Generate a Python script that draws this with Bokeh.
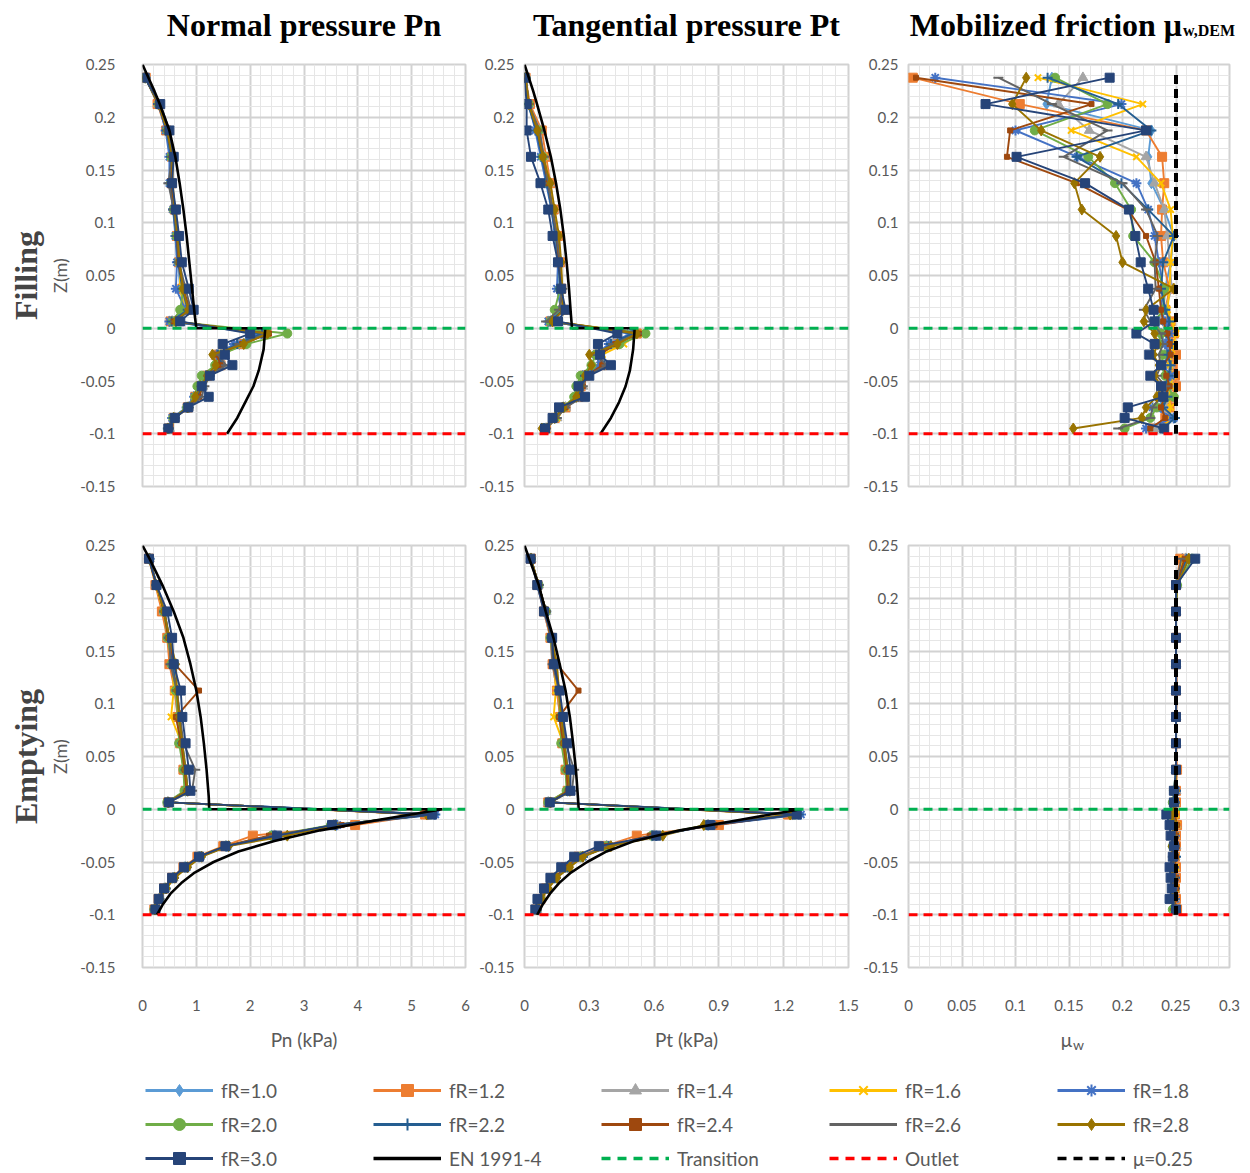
import numpy as np
from bokeh.plotting import figure
from bokeh.models import (Range1d, FixedTicker, CustomJSTickFormatter, Title,
                          Legend, LegendItem, Span)
from bokeh.core.properties import value
from bokeh.layouts import column, row
from bokeh.embed import file_html
from bokeh.resources import INLINE

# ---------------- data ----------------
z_levels = [0.2375, 0.2125, 0.1875, 0.1625, 0.1375, 0.1125, 0.0875, 0.0625, 0.0375, 0.0175, 0.0065,
            -0.005, -0.015, -0.025, -0.035, -0.045, -0.055, -0.065, -0.075, -0.085, -0.095]
series_labels = ["fR=1.0", "fR=1.2", "fR=1.4", "fR=1.6", "fR=1.8", "fR=2.0",
                 "fR=2.2", "fR=2.4", "fR=2.6", "fR=2.8", "fR=3.0"]

# Filling - normal pressure Pn (kPa)
pn_fill_f10 = [0.05,0.29,0.45,0.52,0.52,0.57,0.62,0.66,0.70,0.78,0.50,2.20,1.80,1.38,1.40,1.18,1.05,0.95,0.82,0.57,0.47]
pn_fill_f12 = [0.06,0.28,0.44,0.55,0.54,0.60,0.64,0.68,0.74,0.82,0.52,2.30,1.85,1.42,1.45,1.20,1.08,0.98,0.84,0.58,0.49]
pn_fill_f14 = [0.05,0.30,0.47,0.54,0.53,0.58,0.65,0.67,0.72,0.80,0.55,2.25,1.78,1.40,1.50,1.22,1.12,1.05,0.86,0.60,0.50]
pn_fill_f16 = [0.05,0.31,0.48,0.56,0.55,0.60,0.66,0.69,0.70,0.78,0.58,2.28,1.90,1.45,1.42,1.20,1.10,1.00,0.85,0.58,0.50]
pn_fill_f18 = [0.06,0.30,0.43,0.50,0.50,0.57,0.61,0.64,0.62,0.80,0.50,2.15,1.70,1.38,1.44,1.18,1.06,0.96,0.82,0.55,0.47]
pn_fill_f20 = [0.05,0.30,0.46,0.53,0.53,0.58,0.63,0.68,0.76,0.70,0.56,2.69,1.93,1.45,1.35,1.10,1.02,0.98,0.83,0.57,0.48]
pn_fill_f22 = [0.05,0.29,0.45,0.53,0.52,0.57,0.63,0.66,0.74,0.84,0.54,2.22,1.76,1.40,1.48,1.22,1.10,1.02,0.86,0.58,0.49]
pn_fill_f24 = [0.06,0.30,0.46,0.55,0.54,0.59,0.64,0.67,0.76,0.88,0.58,2.35,1.85,1.38,1.45,1.24,1.12,1.05,0.85,0.59,0.48]
pn_fill_f26 = [0.05,0.31,0.47,0.55,0.48,0.58,0.65,0.68,0.80,0.90,0.60,2.30,1.80,1.40,1.55,1.25,1.15,1.10,0.86,0.60,0.49]
pn_fill_f28 = [0.05,0.30,0.46,0.55,0.56,0.60,0.65,0.69,0.75,0.85,0.62,2.32,1.88,1.30,1.36,1.20,1.08,0.98,0.84,0.58,0.47]
pn_fill_f30 = [0.04,0.33,0.50,0.58,0.55,0.62,0.68,0.73,0.86,0.95,0.70,2.00,1.49,1.53,1.67,1.25,1.10,1.23,0.85,0.60,0.48]

# Filling - tangential pressure Pt (kPa)
pt_fill_f10 = [0.005,0.02,0.06,0.08,0.11,0.13,0.15,0.16,0.16,0.17,0.11,0.50,0.40,0.33,0.35,0.27,0.25,0.24,0.18,0.14,0.09]
pt_fill_f12 = [0.005,0.025,0.08,0.10,0.12,0.135,0.155,0.165,0.17,0.18,0.12,0.52,0.42,0.34,0.36,0.28,0.26,0.25,0.19,0.14,0.10]
pt_fill_f14 = [0.005,0.02,0.07,0.09,0.115,0.13,0.15,0.16,0.165,0.175,0.12,0.51,0.41,0.35,0.37,0.28,0.27,0.26,0.19,0.15,0.10]
pt_fill_f16 = [0.005,0.02,0.065,0.09,0.115,0.135,0.155,0.165,0.17,0.17,0.13,0.53,0.46,0.36,0.35,0.28,0.26,0.25,0.19,0.15,0.10]
pt_fill_f18 = [0.005,0.02,0.05,0.075,0.10,0.125,0.14,0.155,0.15,0.17,0.11,0.49,0.39,0.33,0.35,0.27,0.25,0.24,0.18,0.14,0.09]
pt_fill_f20 = [0.005,0.02,0.065,0.085,0.11,0.13,0.145,0.16,0.165,0.14,0.12,0.56,0.44,0.33,0.31,0.26,0.24,0.23,0.18,0.14,0.09]
pt_fill_f22 = [0.005,0.015,0.055,0.08,0.105,0.125,0.145,0.16,0.165,0.18,0.12,0.50,0.40,0.34,0.37,0.28,0.26,0.25,0.18,0.14,0.09]
pt_fill_f24 = [0.005,0.02,0.06,0.085,0.11,0.13,0.15,0.16,0.17,0.18,0.13,0.53,0.42,0.35,0.36,0.29,0.27,0.26,0.19,0.14,0.10]
pt_fill_f26 = [0.005,0.02,0.07,0.09,0.11,0.13,0.15,0.165,0.175,0.16,0.10,0.52,0.41,0.33,0.38,0.29,0.27,0.27,0.19,0.15,0.10]
pt_fill_f28 = [0.005,0.02,0.06,0.085,0.12,0.14,0.16,0.17,0.175,0.18,0.13,0.52,0.43,0.30,0.31,0.28,0.26,0.24,0.18,0.14,0.08]
pt_fill_f30 = [0.0,0.01,0.01,0.03,0.074,0.11,0.13,0.155,0.17,0.19,0.155,0.43,0.34,0.35,0.40,0.30,0.25,0.28,0.16,0.13,0.095]

# Filling - mobilized friction
mu_fill_f10 = [0.134,0.129,0.227,0.224,0.227,0.239,0.248,0.245,0.240,0.238,0.232,0.236,0.240,0.243,0.246,0.242,0.245,0.240,0.236,0.248,0.232]
mu_fill_f12 = [0.004,0.104,0.222,0.237,0.239,0.237,0.236,0.238,0.244,0.240,0.245,0.248,0.244,0.250,0.247,0.249,0.250,0.246,0.244,0.240,0.228]
mu_fill_f14 = [0.163,0.140,0.169,0.222,0.230,0.239,0.242,0.244,0.246,0.240,0.236,0.242,0.245,0.240,0.244,0.243,0.246,0.244,0.240,0.242,0.230]
mu_fill_f16 = [0.121,0.219,0.152,0.213,0.236,0.245,0.247,0.245,0.244,0.242,0.246,0.250,0.248,0.246,0.244,0.247,0.245,0.243,0.245,0.244,0.238]
mu_fill_f18 = [0.025,0.199,0.100,0.158,0.213,0.224,0.230,0.234,0.238,0.236,0.240,0.244,0.240,0.243,0.238,0.245,0.241,0.236,0.228,0.248,0.222]
mu_fill_f20 = [0.137,0.186,0.118,0.168,0.193,0.208,0.210,0.230,0.239,0.238,0.230,0.236,0.234,0.238,0.236,0.240,0.242,0.248,0.232,0.226,0.202]
mu_fill_f22 = [0.130,0.196,0.227,0.157,0.199,0.224,0.248,0.238,0.236,0.240,0.244,0.241,0.246,0.242,0.245,0.243,0.240,0.242,0.238,0.249,0.238]
mu_fill_f24 = [0.007,0.171,0.095,0.092,0.157,0.205,0.222,0.231,0.234,0.236,0.238,0.242,0.244,0.245,0.238,0.241,0.244,0.239,0.236,0.240,0.226]
mu_fill_f26 = [0.084,0.134,0.186,0.145,0.200,0.222,0.233,0.230,0.231,0.220,0.226,0.236,0.238,0.234,0.236,0.232,0.240,0.236,0.228,0.226,0.196]
mu_fill_f28 = [0.110,0.097,0.124,0.179,0.155,0.162,0.194,0.200,0.248,0.222,0.220,0.230,0.233,0.229,0.234,0.230,0.236,0.232,0.222,0.218,0.154]
mu_fill_f30 = [0.188,0.072,0.222,0.101,0.165,0.206,0.212,0.217,0.224,0.229,0.230,0.213,0.230,0.225,0.236,0.226,0.236,0.238,0.205,0.202,0.239]

# Emptying - normal pressure Pn (kPa)
pn_empty_f10 = [0.13,0.25,0.38,0.47,0.53,0.60,0.66,0.72,0.76,0.80,0.47,5.30,3.60,2.40,1.55,1.05,0.78,0.56,0.40,0.30,0.22]
pn_empty_f12 = [0.12,0.24,0.36,0.46,0.50,0.60,0.65,0.70,0.76,0.80,0.48,5.25,3.95,2.05,1.50,1.02,0.76,0.55,0.40,0.30,0.22]
pn_empty_f14 = [0.13,0.26,0.40,0.48,0.55,0.62,0.67,0.72,0.80,0.84,0.47,5.32,3.55,2.45,1.55,1.04,0.80,0.57,0.42,0.31,0.23]
pn_empty_f16 = [0.12,0.25,0.39,0.49,0.56,0.58,0.53,0.73,0.78,0.82,0.48,5.30,3.60,2.42,1.52,1.05,0.79,0.58,0.42,0.30,0.22]
pn_empty_f18 = [0.13,0.27,0.40,0.48,0.55,0.63,0.69,0.74,0.79,0.84,0.49,5.44,3.62,2.48,1.58,1.08,0.82,0.58,0.43,0.31,0.23]
pn_empty_f20 = [0.12,0.26,0.40,0.47,0.54,0.62,0.66,0.68,0.76,0.78,0.46,5.35,3.50,2.40,1.55,1.06,0.80,0.57,0.42,0.31,0.22]
pn_empty_f22 = [0.13,0.26,0.41,0.49,0.56,0.64,0.69,0.74,0.80,0.84,0.48,5.42,3.58,2.46,1.57,1.07,0.81,0.58,0.43,0.31,0.23]
pn_empty_f24 = [0.12,0.26,0.40,0.48,0.60,1.05,0.62,0.72,0.78,0.82,0.48,5.30,3.70,2.35,1.53,1.04,0.79,0.57,0.41,0.30,0.22]
pn_empty_f26 = [0.12,0.26,0.41,0.50,0.52,0.64,0.70,0.76,0.98,0.92,0.48,5.32,3.56,2.44,1.56,1.06,0.80,0.58,0.42,0.31,0.23]
pn_empty_f28 = [0.13,0.26,0.40,0.50,0.62,0.64,0.68,0.74,0.80,0.84,0.48,5.28,3.58,2.69,1.60,1.10,0.84,0.60,0.44,0.32,0.23]
pn_empty_f30 = [0.12,0.26,0.46,0.55,0.58,0.71,0.74,0.80,0.86,0.89,0.49,5.38,3.52,2.50,1.54,1.05,0.77,0.55,0.40,0.30,0.24]

# Emptying - tangential pressure Pt (kPa)
pt_empty_f10 = [0.03,0.06,0.09,0.12,0.13,0.15,0.165,0.18,0.19,0.20,0.11,1.24,0.85,0.59,0.38,0.26,0.19,0.14,0.10,0.075,0.056]
pt_empty_f12 = [0.03,0.06,0.09,0.12,0.13,0.15,0.165,0.175,0.19,0.20,0.11,1.22,0.90,0.52,0.37,0.25,0.19,0.14,0.10,0.074,0.055]
pt_empty_f14 = [0.03,0.065,0.10,0.125,0.14,0.16,0.17,0.18,0.20,0.21,0.11,1.25,0.85,0.60,0.38,0.26,0.20,0.14,0.10,0.076,0.057]
pt_empty_f16 = [0.03,0.06,0.095,0.125,0.14,0.145,0.135,0.18,0.195,0.20,0.11,1.24,0.86,0.60,0.38,0.26,0.19,0.14,0.10,0.075,0.056]
pt_empty_f18 = [0.03,0.065,0.10,0.125,0.14,0.16,0.175,0.185,0.20,0.21,0.12,1.28,0.87,0.61,0.39,0.27,0.20,0.145,0.105,0.077,0.058]
pt_empty_f20 = [0.03,0.065,0.10,0.12,0.135,0.16,0.165,0.17,0.19,0.195,0.11,1.25,0.84,0.59,0.38,0.26,0.20,0.14,0.10,0.075,0.056]
pt_empty_f22 = [0.03,0.065,0.10,0.125,0.14,0.16,0.175,0.185,0.20,0.21,0.12,1.27,0.86,0.61,0.39,0.27,0.20,0.145,0.105,0.077,0.058]
pt_empty_f24 = [0.03,0.065,0.10,0.12,0.15,0.25,0.16,0.18,0.195,0.20,0.12,1.24,0.88,0.58,0.38,0.26,0.19,0.14,0.10,0.074,0.056]
pt_empty_f26 = [0.03,0.065,0.10,0.125,0.13,0.16,0.175,0.19,0.23,0.22,0.12,1.25,0.85,0.60,0.38,0.26,0.20,0.145,0.10,0.076,0.057]
pt_empty_f28 = [0.03,0.065,0.10,0.125,0.15,0.16,0.17,0.185,0.20,0.21,0.12,1.23,0.83,0.64,0.40,0.27,0.21,0.15,0.11,0.078,0.057]
pt_empty_f30 = [0.028,0.059,0.09,0.128,0.136,0.163,0.179,0.198,0.213,0.213,0.117,1.26,0.86,0.61,0.344,0.23,0.17,0.12,0.09,0.06,0.05]

# Emptying - mobilized friction
mu_empty_f10 = [0.256,0.250,0.250,0.250,0.250,0.250,0.250,0.250,0.250,0.249,0.249,0.248,0.249,0.250,0.249,0.248,0.249,0.248,0.249,0.248,0.250]
mu_empty_f12 = [0.254,0.250,0.250,0.250,0.250,0.250,0.250,0.250,0.251,0.250,0.250,0.249,0.251,0.250,0.250,0.249,0.250,0.250,0.249,0.250,0.251]
mu_empty_f14 = [0.259,0.251,0.250,0.250,0.250,0.250,0.250,0.250,0.250,0.250,0.249,0.248,0.250,0.249,0.250,0.249,0.249,0.248,0.249,0.249,0.250]
mu_empty_f16 = [0.257,0.250,0.250,0.250,0.250,0.250,0.250,0.250,0.250,0.249,0.250,0.250,0.251,0.250,0.249,0.250,0.250,0.249,0.250,0.249,0.250]
mu_empty_f18 = [0.262,0.251,0.250,0.250,0.250,0.250,0.250,0.250,0.250,0.250,0.249,0.246,0.248,0.249,0.248,0.249,0.248,0.249,0.248,0.249,0.249]
mu_empty_f20 = [0.265,0.251,0.250,0.250,0.250,0.250,0.250,0.250,0.250,0.248,0.247,0.244,0.246,0.248,0.247,0.248,0.246,0.247,0.248,0.246,0.247]
mu_empty_f22 = [0.260,0.250,0.250,0.250,0.250,0.250,0.250,0.250,0.250,0.250,0.249,0.247,0.249,0.248,0.249,0.250,0.248,0.249,0.249,0.248,0.250]
mu_empty_f24 = [0.258,0.250,0.250,0.250,0.250,0.251,0.250,0.250,0.250,0.250,0.250,0.249,0.251,0.250,0.251,0.250,0.249,0.250,0.250,0.249,0.250]
mu_empty_f26 = [0.255,0.250,0.250,0.250,0.250,0.250,0.250,0.250,0.250,0.249,0.249,0.247,0.248,0.248,0.249,0.247,0.248,0.248,0.247,0.248,0.249]
mu_empty_f28 = [0.262,0.251,0.250,0.250,0.250,0.250,0.250,0.250,0.250,0.250,0.249,0.246,0.249,0.247,0.246,0.248,0.246,0.247,0.246,0.247,0.248]
mu_empty_f30 = [0.268,0.250,0.250,0.250,0.250,0.250,0.250,0.250,0.250,0.248,0.248,0.241,0.244,0.245,0.248,0.247,0.244,0.245,0.246,0.244,0.250]

# EN 1991-4 reference curves
en_fill_z = [0.25, 0.2375, 0.225, 0.2125, 0.1875, 0.1625, 0.1375, 0.1125, 0.0875, 0.0625, 0.0375, 0.0125, 0.0,
             0.0, -0.02, -0.04, -0.055, -0.07, -0.085, -0.1]
en_fill_pn = [0.0, 0.11, 0.22, 0.32, 0.50, 0.61, 0.69, 0.76, 0.82, 0.87, 0.92, 0.97, 1.0,
              2.28, 2.25, 2.16, 2.06, 1.91, 1.76, 1.57]
en_fill_pt = [0.0, 0.02, 0.04, 0.058, 0.092, 0.122, 0.146, 0.166, 0.182, 0.195, 0.206, 0.215, 0.22,
              0.51, 0.503, 0.488, 0.468, 0.438, 0.40, 0.352]
en_empty_z = [0.25, 0.2375, 0.225, 0.2125, 0.1875, 0.1625, 0.1375, 0.1125, 0.0875, 0.0625, 0.0375, 0.0125, 0.0,
              0.0, -0.01, -0.02, -0.03, -0.04, -0.05, -0.06, -0.07, -0.08, -0.09, -0.1]
en_empty_pn = [0.0, 0.13, 0.25, 0.37, 0.58, 0.76, 0.89, 1.0, 1.08, 1.14, 1.19, 1.23, 1.24,
               5.57, 4.4, 3.3, 2.45, 1.78, 1.32, 0.97, 0.72, 0.52, 0.38, 0.27]
en_empty_pt = [0.0, 0.022, 0.044, 0.066, 0.098, 0.134, 0.163, 0.19, 0.21, 0.225, 0.238, 0.247, 0.251,
               1.278, 1.0, 0.72, 0.51, 0.38, 0.29, 0.215, 0.16, 0.118, 0.085, 0.059]

mu_ref = 0.25
mu_ref_top = 0.24
transition_z = 0.0
outlet_z = -0.1

y_ticks = [-0.15, -0.1, -0.05, 0, 0.05, 0.1, 0.15, 0.2, 0.25]
pn_ticks = [0, 1, 2, 3, 4, 5, 6]
pt_ticks = [0, 0.3, 0.6, 0.9, 1.2, 1.5]
mu_ticks = [0, 0.05, 0.1, 0.15, 0.2, 0.25, 0.3]

panel_titles = ["Normal pressure Pn", "Tangential pressure Pt", "Mobilized friction μ"]
friction_title_sub = "w,DEM"
row_labels = ["Filling", "Emptying"]
x_axis_labels = ["Pn (kPa)", "Pt (kPa)", "μ"]
mu_axis_sub = "w"

# ---------------- styling ----------------
series_colors = ["#5B9BD5", "#ED7D31", "#A5A5A5", "#FFC000", "#4472C4", "#70AD47",
                 "#255E91", "#9E480E", "#636363", "#997300", "#264478"]
series_markers = ["diamond", "square", "triangle", "x", "asterisk", "circle",
                  "cross", "square", "dash", "diamond", "square"]
series_sizes = [11, 9, 10, 9, 10, 9, 10, 5, 10, 11, 9]

pn_fill = [pn_fill_f10, pn_fill_f12, pn_fill_f14, pn_fill_f16, pn_fill_f18, pn_fill_f20,
           pn_fill_f22, pn_fill_f24, pn_fill_f26, pn_fill_f28, pn_fill_f30]
pt_fill = [pt_fill_f10, pt_fill_f12, pt_fill_f14, pt_fill_f16, pt_fill_f18, pt_fill_f20,
           pt_fill_f22, pt_fill_f24, pt_fill_f26, pt_fill_f28, pt_fill_f30]
mu_fill = [mu_fill_f10, mu_fill_f12, mu_fill_f14, mu_fill_f16, mu_fill_f18, mu_fill_f20,
           mu_fill_f22, mu_fill_f24, mu_fill_f26, mu_fill_f28, mu_fill_f30]
pn_empty = [pn_empty_f10, pn_empty_f12, pn_empty_f14, pn_empty_f16, pn_empty_f18, pn_empty_f20,
            pn_empty_f22, pn_empty_f24, pn_empty_f26, pn_empty_f28, pn_empty_f30]
pt_empty = [pt_empty_f10, pt_empty_f12, pt_empty_f14, pt_empty_f16, pt_empty_f18, pt_empty_f20,
            pt_empty_f22, pt_empty_f24, pt_empty_f26, pt_empty_f28, pt_empty_f30]
mu_empty = [mu_empty_f10, mu_empty_f12, mu_empty_f14, mu_empty_f16, mu_empty_f18, mu_empty_f20,
            mu_empty_f22, mu_empty_f24, mu_empty_f26, mu_empty_f28, mu_empty_f30]

FONT = "Lato"
SERIF = "Liberation Serif"
GRAY_TXT = "#595959"
MAJOR_GRID = "#d2d2d2"
MINOR_GRID = "#e6e6e6"
TOTAL_W = 1250
HEADER_H = 54
TOP_H = 462
BOT_H = 504
FOOT_H = 153

col_specs = [
    dict(xmax=6.0, ticks=pn_ticks, minor=0.2, w=474, bl=142, br=9, standoff=27),
    dict(xmax=1.5, ticks=pt_ticks, minor=0.06, w=386, bl=50, br=12, standoff=10),
    dict(xmax=0.3, ticks=mu_ticks, minor=0.01, w=390, bl=46, br=21, standoff=10),
]
# horizontal frame centres (pixels) derived from the column layout
col_left = np.cumsum([0] + [c["w"] for c in col_specs[:-1]])
frame_centers = [float(cl + c["bl"] + (c["w"] - c["bl"] - c["br"]) / 2) for cl, c in zip(col_left, col_specs)]

fmt_code = "return String(parseFloat(tick.toFixed(4)));"


def minor_list(ticks, step):
    return [float(v) for v in np.round(np.arange(ticks[0], ticks[-1] + step / 2, step), 5)]


y_minor = minor_list(y_ticks, 0.01)


def make_panel(ci, top, sets, en_x, en_z, with_mu=False, rowlabel=None):
    s = col_specs[ci]
    h = TOP_H if top else BOT_H
    bt = 10 if top else 29
    bb = 30 if top else 53
    p = figure(width=s["w"], height=h, x_range=Range1d(0, s["xmax"]), y_range=Range1d(-0.15, 0.25),
               output_backend="svg", toolbar_location=None,
               min_border_left=s["bl"], min_border_right=s["br"],
               min_border_top=bt, min_border_bottom=bb)
    p.background_fill_color = "white"
    p.border_fill_color = "white"
    p.outline_line_color = MAJOR_GRID
    p.outline_line_width = 2

    xt = FixedTicker(ticks=s["ticks"], minor_ticks=minor_list(s["ticks"], s["minor"]))
    yt = FixedTicker(ticks=y_ticks, minor_ticks=y_minor)
    p.xaxis.ticker = xt
    p.yaxis.ticker = yt
    p.xgrid.ticker = xt
    p.ygrid.ticker = yt
    for g in (p.xgrid, p.ygrid):
        g.grid_line_color = MAJOR_GRID
        g.grid_line_width = 2
        g.minor_grid_line_color = MINOR_GRID
        g.minor_grid_line_width = 1

    for ax in (p.xaxis, p.yaxis):
        ax.formatter = CustomJSTickFormatter(code=fmt_code)
        ax.axis_line_color = None
        ax.major_tick_line_color = None
        ax.minor_tick_line_color = None
        ax.major_tick_out = 0
        ax.major_tick_in = 0
        ax.minor_tick_out = 0
        ax.minor_tick_in = 0
        ax.major_label_text_font = FONT
        ax.major_label_text_font_size = "15px"
        ax.major_label_text_color = GRAY_TXT
        ax.axis_label_text_font = FONT
        ax.axis_label_text_font_style = "normal"
        ax.axis_label_text_color = GRAY_TXT
    p.yaxis.major_label_standoff = s["standoff"]

    if top:
        p.xaxis.visible = False
    else:
        p.xaxis.major_label_standoff = 32

    if ci == 0:
        p.yaxis.axis_label = "Z(m)"
        p.yaxis.axis_label_text_font_size = "18px"
        p.yaxis.axis_label_standoff = 6
        p.add_layout(Title(text=rowlabel, text_font=SERIF, text_font_style="bold",
                           text_font_size="32px", align="center", standoff=5), "left")

    for vals, c, m, sz in zip(sets, series_colors, series_markers, series_sizes):
        p.line(x=vals, y=z_levels, line_color=c, line_width=1.9)
        lw = 2 if m in ("x", "asterisk", "cross", "dash") else 1
        p.scatter(x=vals, y=z_levels, marker=m, size=sz, fill_color=c, line_color=c, line_width=lw)

    if en_x is not None:
        p.line(x=en_x, y=en_z, line_color="black", line_width=2.6)
    if with_mu:
        p.line(x=[mu_ref, mu_ref], y=[mu_ref_top, outlet_z], line_color="black",
               line_width=4, line_dash="9 5")

    p.add_layout(Span(location=transition_z, dimension="width", line_color="#00B050",
                      line_width=3, line_dash="9 6"))
    p.add_layout(Span(location=outlet_z, dimension="width", line_color="#FF0000",
                      line_width=3, line_dash="9 6"))
    return p


p11 = make_panel(0, True, pn_fill, en_fill_pn, en_fill_z, rowlabel=row_labels[0])
p12 = make_panel(1, True, pt_fill, en_fill_pt, en_fill_z)
p13 = make_panel(2, True, mu_fill, None, None, with_mu=True)
p21 = make_panel(0, False, pn_empty, en_empty_pn, en_empty_z, rowlabel=row_labels[1])
p22 = make_panel(1, False, pt_empty, en_empty_pt, en_empty_z)
p23 = make_panel(2, False, mu_empty, None, None, with_mu=True)


def blank_strip(h):
    f = figure(width=TOTAL_W, height=h, x_range=Range1d(0, TOTAL_W), y_range=Range1d(0, h),
               output_backend="svg", toolbar_location=None, min_border=0,
               x_axis_location=None, y_axis_location=None)
    f.xgrid.visible = False
    f.ygrid.visible = False
    f.outline_line_color = None
    f.background_fill_color = "white"
    f.border_fill_color = "white"
    return f


# ---------------- header with panel titles ----------------
header = blank_strip(HEADER_H)
title_base = HEADER_H - 24
header.text(x=frame_centers[:2], y=[title_base, title_base], text=panel_titles[:2],
            text_font=value(SERIF), text_font_style="bold", text_font_size="32px",
            text_align="center", text_baseline="alphabetic", text_color="black")
mu_join = frame_centers[2] + 114
header.text(x=[mu_join], y=[title_base], text=[panel_titles[2]],
            text_font=value(SERIF), text_font_style="bold", text_font_size="32px",
            text_align="right", text_baseline="alphabetic", text_color="black")
header.text(x=[mu_join + 1], y=[title_base - 6], text=[friction_title_sub],
            text_font=value(SERIF), text_font_style="bold", text_font_size="16px",
            text_align="left", text_baseline="alphabetic", text_color="black")

# ---------------- footer: axis titles + legend ----------------
foot = blank_strip(FOOT_H)
lab_base = FOOT_H - 19
foot.text(x=frame_centers[:2], y=[lab_base, lab_base], text=x_axis_labels[:2],
          text_font=value(FONT), text_font_size="19px", text_align="center",
          text_baseline="alphabetic", text_color=GRAY_TXT)
foot.text(x=[frame_centers[2] + 4], y=[lab_base], text=[x_axis_labels[2]],
          text_font=value(FONT), text_font_size="19px", text_align="right",
          text_baseline="alphabetic", text_color=GRAY_TXT)
foot.text(x=[frame_centers[2] + 5], y=[lab_base - 5], text=[mu_axis_sub],
          text_font=value(FONT), text_font_size="14px", text_align="left",
          text_baseline="alphabetic", text_color=GRAY_TXT)

# legend renderers live on a hidden range so only their legend samples show
foot.extra_x_ranges = {"hidden": Range1d(100, 101)}
foot.extra_y_ranges = {"hidden": Range1d(100, 101)}
hid = dict(x_range_name="hidden", y_range_name="hidden")
items = []
for lab, vals, c, m, sz in zip(series_labels, pn_fill, series_colors, series_markers, series_sizes):
    r1 = foot.line(x=vals, y=z_levels, line_color=c, line_width=3, **hid)
    lw = 2 if m in ("x", "asterisk", "cross", "dash") else 1
    r2 = foot.scatter(x=vals[:1], y=z_levels[:1], marker=m, size=sz + 1, fill_color=c,
                      line_color=c, line_width=lw, **hid)
    items.append(LegendItem(label=lab, renderers=[r1, r2]))
r_en = foot.line(x=en_fill_pn, y=en_fill_z, line_color="black", line_width=3.5, **hid)
items.append(LegendItem(label="EN 1991-4", renderers=[r_en]))
r_tr = foot.line(x=pn_ticks, y=[transition_z] * len(pn_ticks), line_color="#00B050",
                 line_width=3.5, line_dash="9 7", **hid)
items.append(LegendItem(label="Transition", renderers=[r_tr]))
r_ou = foot.line(x=pn_ticks, y=[outlet_z] * len(pn_ticks), line_color="#FF0000",
                 line_width=3.5, line_dash="9 7", **hid)
items.append(LegendItem(label="Outlet", renderers=[r_ou]))
r_mu = foot.line(x=[mu_ref, mu_ref], y=[mu_ref_top, outlet_z], line_color="black",
                 line_width=3.5, line_dash="9 7", **hid)
items.append(LegendItem(label="μ=0.25", renderers=[r_mu]))

legend = Legend(items=items, location=(145, 0), orientation="horizontal", ncols=5,
                glyph_width=68, glyph_height=30, label_height=30, label_width=148,
                label_standoff=8, spacing=4, padding=0, margin=0,
                border_line_color=None, background_fill_alpha=0,
                label_text_font=FONT, label_text_font_size="19px", label_text_color=GRAY_TXT)
foot.add_layout(legend)

layout = column(header, row(p11, p12, p13), row(p21, p22, p23), foot)

with open("out.html", "w") as f:
    f.write(file_html(layout, INLINE, title="Wall pressures"))
